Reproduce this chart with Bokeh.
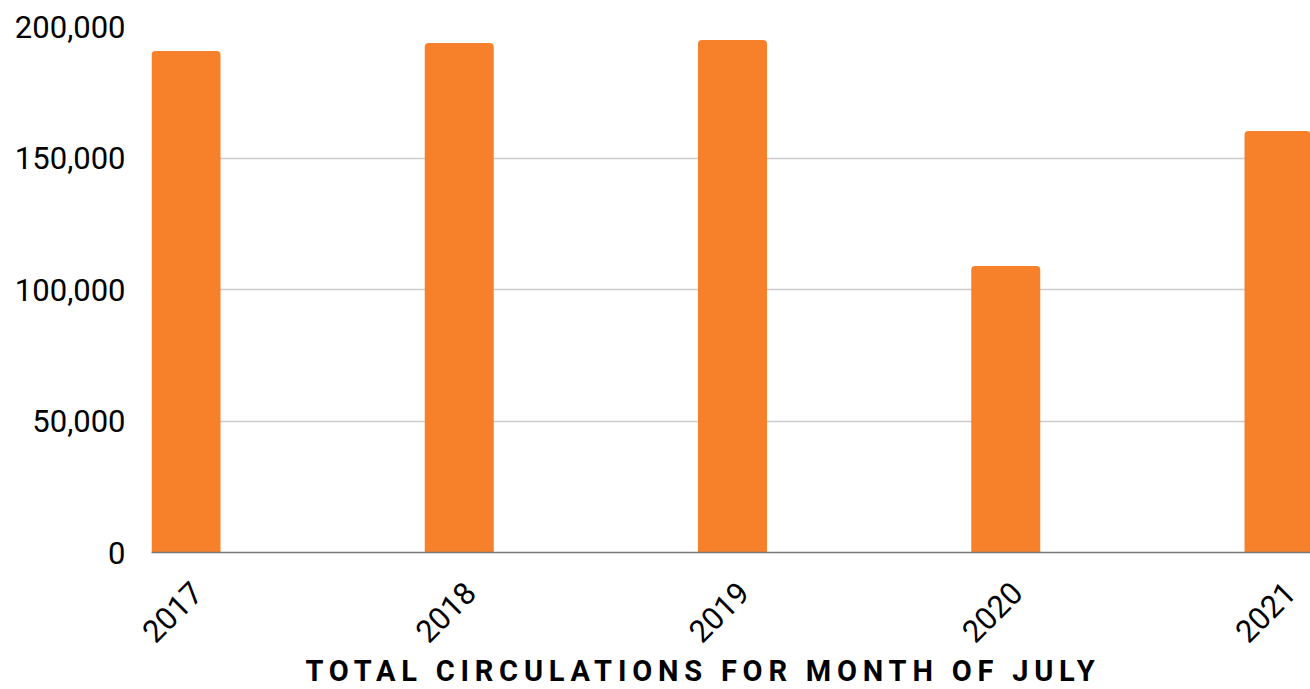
import math
from bokeh.plotting import figure
from bokeh.models import ColumnDataSource, FixedTicker, NumeralTickFormatter, Range1d, Div, LinearAxis
from bokeh.layouts import column
from bokeh.embed import file_html
from bokeh.resources import INLINE

years = [2017, 2018, 2019, 2020, 2021]
year_labels = ["2017", "2018", "2019", "2020", "2021"]
circulations = [190700, 193700, 194900, 108900, 160300]
y_ticks = [0, 50000, 100000, 150000, 200000]
title_text = "TOTAL CIRCULATIONS FOR MONTH OF JULY"

source = ColumnDataSource(data=dict(year=years, circ=circulations))

bar_w = 0.2525
x_start = years[0] - bar_w / 2
x_end = x_start + 4.2415
label_shift = 11 / 273.25  # rotated labels sit slightly right of the bar centres

p = figure(width=1310, height=655, output_backend="svg", toolbar_location=None,
           x_range=Range1d(x_start, x_end), y_range=Range1d(0, 200000),
           min_border_left=151, min_border_right=0, min_border_top=26, min_border_bottom=103)
p.outline_line_color = None
p.background_fill_color = "white"
p.extra_x_ranges = {"labels": Range1d(x_start - label_shift, x_end - label_shift)}

p.vbar(x="year", top="circ", width=bar_w, source=source, color="#F7802A",
       line_color=None, border_radius=(4, 4, 0, 0))

# y axis
p.yaxis.ticker = FixedTicker(ticks=y_ticks)
p.yaxis.formatter = NumeralTickFormatter(format="0,0")
p.yaxis.axis_line_color = None
p.yaxis.major_tick_line_color = None
p.yaxis.minor_tick_line_color = None
p.yaxis.major_tick_out = 0
p.yaxis.major_tick_in = 0
p.yaxis.major_label_standoff = 26
p.yaxis.major_label_text_font = "Roboto"
p.yaxis.major_label_text_font_size = "31px"
p.yaxis.major_label_text_color = "#000000"

# main x axis: baseline only
p.xaxis.ticker = FixedTicker(ticks=[])
p.xaxis.axis_line_color = "#777777"
p.xaxis.axis_line_width = 1.5
p.xaxis.major_tick_line_color = None
p.xaxis.minor_tick_line_color = None
p.xaxis.major_tick_out = 0
p.xaxis.major_tick_in = 0
p.xaxis.major_label_standoff = 0

# label axis
lab = LinearAxis(x_range_name="labels", ticker=FixedTicker(ticks=years),
                 major_label_overrides={y: l for y, l in zip(years, year_labels)})
lab.major_label_orientation = math.pi / 4
lab.axis_line_color = None
lab.major_tick_line_color = None
lab.minor_tick_line_color = None
lab.major_tick_out = 0
lab.major_tick_in = 0
lab.major_label_standoff = 35
lab.major_label_text_font = "Roboto"
lab.major_label_text_font_size = "31px"
lab.major_label_text_color = "#000000"
p.add_layout(lab, "below")

p.xgrid.grid_line_color = None
p.ygrid.grid_line_color = "#CCCCCC"
p.ygrid.grid_line_width = 1.5

title = Div(
    text=(
        '<div style="width:1310px;box-sizing:border-box;padding-left:86px;text-align:center;'
        'font-family:Roboto;font-weight:bold;font-size:29px;letter-spacing:5.8px;'
        'line-height:22px;color:#000;">' + title_text + '</div>'
    ),
    width=1310, height=26,
)

layout = column(p, title, spacing=0)

open("out.html", "w").write(file_html(layout, INLINE))
